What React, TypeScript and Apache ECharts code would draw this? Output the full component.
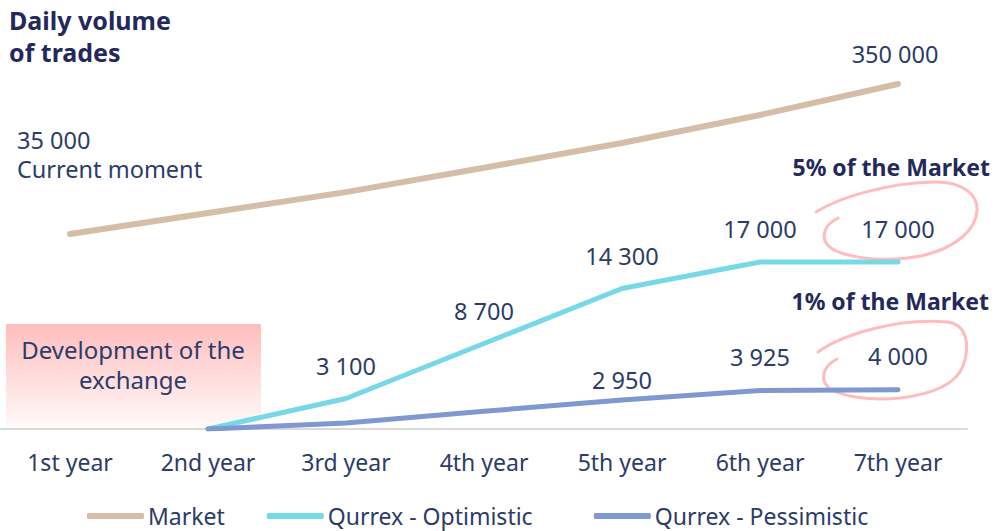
import React, { useEffect, useRef } from "react";
import * as echarts from "echarts";

const categories = ["1st year", "2nd year", "3rd year", "4th year", "5th year", "6th year", "7th year"];
const marketValues = [35000, 79000, 123000, 174000, 226000, 285000, 350000];
const optimisticValues: (number | null)[] = [null, 0, 3100, 8700, 14300, 17000, 17000];
const pessimisticValues: (number | null)[] = [null, 0, 600, 1800, 2950, 3925, 4000];
const seriesNames = ["Market", "Qurrex - Optimistic", "Qurrex - Pessimistic"];
const optimisticLabelIdx = [2, 3, 4, 5, 6];
const pessimisticLabelIdx = [4, 5, 6];

const FONT = "Noto Sans";
const TEXT = "#2b3c69";
const TITLE = "#24295c";
const C_MARKET = "#d5bea8";
const C_OPT = "#77d9e6";
const C_PES = "#7f98d2";

const fmt = (v: number) => String(v).replace(/\B(?=(\d{3})+(?!\d))/g, " ");

const RING1 = "M0 0 C22 -14 70 -29 117 -30 C145 -31 162 -18 161 -2 C160 18 140 36 105 44 C70 51 30 46 15 36 C4 28 6 14 22 6";
const RING2 = "M0 0 C25 -18 80 -34 129 -30 C148 -28 153 -8 145 14 C138 32 115 42 82 46 C50 49 20 44 10 35 C2 27 5 14 19 7";

let registered = false;
function registerShapes() {
  if (registered) return;
  echarts.graphic.registerShape("ring1", echarts.graphic.extendPath(RING1, {}) as any);
  echarts.graphic.registerShape("ring2", echarts.graphic.extendPath(RING2, {}) as any);
  registered = true;
}

export default function App() {
  const ref = useRef<HTMLDivElement>(null);
  useEffect(() => {
    if (!ref.current) return;
    registerShapes();
    const chart = echarts.init(ref.current, undefined, { renderer: "svg" });
    const labelBase = { show: true, color: TEXT, fontFamily: FONT, fontSize: 23.5 };

    const marketData = marketValues.map((v, i) => {
      if (i === 0)
        return {
          value: v,
          label: {
            ...labelBase,
            position: "top",
            align: "left",
            distance: 0,
            offset: [-53, -50],
            lineHeight: 29,
            formatter: () => fmt(v) + "\nCurrent moment",
          },
        };
      if (i === marketValues.length - 1)
        return { value: v, label: { ...labelBase, position: "top", distance: 18, offset: [-3, 0], formatter: () => fmt(v) } };
      return { value: v };
    });

    const optData = optimisticValues.map((v, i) =>
      optimisticLabelIdx.includes(i) && v != null
        ? { value: v, label: { ...labelBase, position: "top", distance: 20, formatter: () => fmt(v) } }
        : { value: v }
    );
    const pesData = pessimisticValues.map((v, i) =>
      pessimisticLabelIdx.includes(i) && v != null
        ? {
            value: v,
            label: { ...labelBase, position: "top", distance: i === 4 ? 8 : 21, formatter: () => fmt(v) },
          }
        : { value: v }
    );

    const lineCommon = {
      type: "line",
      symbol: "circle",
      symbolSize: 1,
      showSymbol: true,
      connectNulls: false,
      emphasis: { disabled: true },
      silent: true,
    };

    const txt = (text: string, x: number, y: number, font: string, fill: string, align = "left") => ({
      type: "text",
      x,
      y,
      style: { text, fill, font, align, verticalAlign: "middle" },
    });

    chart.setOption({
      animation: false,
      grid: { left: 1, right: 39, top: 36, bottom: 102 },
      xAxis: {
        type: "category",
        data: categories,
        boundaryGap: true,
        axisLine: { lineStyle: { color: "#dadada", width: 2 } },
        axisTick: { show: false },
        axisLabel: { color: TEXT, fontFamily: FONT, fontSize: 23, margin: 21 },
      },
      yAxis: [
        { type: "value", min: 0, max: 40000, show: false, splitLine: { show: false } },
        { type: "value", min: -374500, max: 450800, show: false, splitLine: { show: false } },
      ],
      legend: {
        left: 87,
        top: 502,
        padding: 0,
        icon: "roundRect",
        itemWidth: 57,
        itemHeight: 6,
        itemGap: 42,
        data: [
          { name: seriesNames[0] },
          { name: seriesNames[1], textStyle: { width: 224 } },
          { name: seriesNames[2] },
        ],
        textStyle: { color: TEXT, fontFamily: FONT, fontSize: 23, lineHeight: 28, padding: [0, 0, 0, -1] },
      },
      series: [
        {
          ...lineCommon,
          name: seriesNames[0],
          yAxisIndex: 1,
          data: marketData,
          itemStyle: { color: C_MARKET },
          lineStyle: { color: C_MARKET, width: 6, cap: "round" },
        },
        {
          ...lineCommon,
          name: seriesNames[1],
          yAxisIndex: 0,
          data: optData,
          itemStyle: { color: C_OPT },
          lineStyle: { color: C_OPT, width: 5, cap: "round" },
        },
        {
          ...lineCommon,
          name: seriesNames[2],
          yAxisIndex: 0,
          data: pesData,
          itemStyle: { color: C_PES },
          lineStyle: { color: C_PES, width: 5, cap: "round" },
        },
      ],
      graphic: [
        txt("Daily volume", 9, 19.5, `bold 25px "${FONT}"`, TITLE),
        txt("of trades", 9, 51.5, `bold 25px "${FONT}"`, TITLE),
        {
          type: "rect",
          shape: { x: 6, y: 324, width: 255, height: 104 },
          z: -1,
          style: {
            fill: new echarts.graphic.LinearGradient(0, 0, 0, 1, [
              { offset: 0, color: "#ffbdbd" },
              { offset: 1, color: "#fffafa" },
            ]),
          },
        },
        txt("Development of the", 133, 349.5, `24px "${FONT}"`, TEXT, "center"),
        txt("exchange", 133, 379.5, `24px "${FONT}"`, TEXT, "center"),
        txt("5% of the Market", 990, 167, `bold 23px "${FONT}"`, TITLE, "right"),
        txt("1% of the Market", 989, 301, `bold 23px "${FONT}"`, TITLE, "right"),
        {
          type: "ring1",
          x: 816,
          y: 212,
          style: { fill: "none", stroke: "#ffbcbc", lineWidth: 3, lineCap: "round" },
        },
        {
          type: "ring2",
          x: 818,
          y: 352,
          style: { fill: "none", stroke: "#ffbcbc", lineWidth: 3, lineCap: "round" },
        },
      ],
    });
    return () => chart.dispose();
  }, []);
  return (
    <div
      ref={ref}
      style={{ position: "fixed", left: 0, top: 0, width: 1006, height: 531, background: "#fff" }}
    />
  );
}
